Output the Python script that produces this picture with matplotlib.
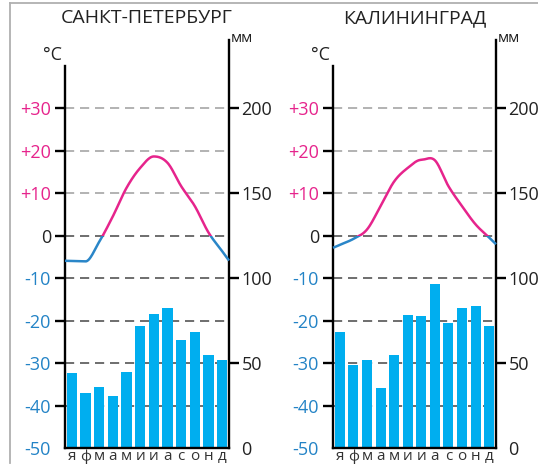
import numpy as np
import matplotlib
matplotlib.use("Agg")
import matplotlib.pyplot as plt
from matplotlib.patches import Rectangle
from matplotlib.lines import Line2D
from matplotlib.transforms import blended_transform_factory

plt.rcParams['font.family'] = ['Open Sans', 'DejaVu Sans']

months = ['я', 'ф', 'м', 'а', 'м', 'и', 'и', 'а', 'с', 'о', 'н', 'д']
titles = ['САНКТ-ПЕТЕРБУРГ', 'КАЛИНИНГРАД']
spb_temp = [-6.0, -6.1, -1.5, 4.5, 11.2, 15.9, 18.6, 17.1, 11.6, 6.9, 0.7, -3.7]
spb_prec = [44, 32.5, 36, 30.5, 44.5, 71.5, 79, 82.5, 63.5, 68, 55, 52]
kal_temp = [-2.2, -0.8, 1.4, 6.9, 12.7, 15.9, 17.8, 17.7, 11.6, 6.9, 2.6, -0.5]
kal_prec = [68, 49, 52, 35.5, 55, 78.5, 77.5, 96.5, 73.5, 82.5, 83.5, 72]
temp_ticks = [30, 20, 10, 0, -10, -20, -30, -40, -50]
temp_labels = ['+30', '+20', '+10', '0', '-10', '-20', '-30', '-40', '-50']
mm_ticks = [0, 50, 100, 150, 200]

PINK = '#E6248C'
BLUE_LINE = '#2A86C8'
BLUE_TXT = '#2383C6'
BAR = '#00AEEF'
TXT = '#222222'

W, H = 538, 465
fig = plt.figure(figsize=(W / 100, H / 100), dpi=100)

T_MIN, T_MAX = -50, 46
MM_MAX = (T_MAX - T_MIN) * 2.5


def smooth_curve(x, y, n=24):
    """Hermite rendering of the monthly points (Catmull-Rom tangents, zero at
    local extrema), extended to the half-month edges."""
    x = np.asarray(x, float)
    y = np.asarray(y, float)
    h = np.diff(x)
    d = np.diff(y) / h
    m = np.zeros_like(y)
    for i in range(1, len(y) - 1):
        if d[i - 1] * d[i] <= 0:
            m[i] = 0.0
        else:
            m[i] = 0.5 * (d[i - 1] + d[i])
    m[0] = d[0]
    m[-1] = d[-1]
    xs, ys = [], []
    for i in range(len(x) - 1):
        t = np.linspace(0, 1, n, endpoint=False)
        h00 = 2 * t ** 3 - 3 * t ** 2 + 1
        h10 = t ** 3 - 2 * t ** 2 + t
        h01 = -2 * t ** 3 + 3 * t ** 2
        h11 = t ** 3 - t ** 2
        xs.append(x[i] + t * h[i])
        ys.append(h00 * y[i] + h10 * h[i] * m[i] + h01 * y[i + 1] + h11 * h[i] * m[i + 1])
    xs.append([x[-1]])
    ys.append([y[-1]])
    xl = np.array([x[0] - 0.5])
    yl = np.array([y[0] - 0.5 * m[0]])
    xr = np.array([x[-1] + 0.5])
    yr = np.array([y[-1] + 0.5 * m[-1]])
    return np.concatenate([xl] + xs + [xr]), np.concatenate([yl] + ys + [yr])


def panel(left_px, width_px, title, temps, prec):
    bottom_px, top_px = 448, 40
    rect = [left_px / W, 1 - bottom_px / H, width_px / W, (bottom_px - top_px) / H]
    ax_mm = fig.add_axes(rect)
    ax_t = ax_mm.twinx()
    x = np.arange(12)
    ax_mm.set_xlim(-0.5, 11.5)
    ax_mm.set_ylim(0, MM_MAX)
    ax_t.set_ylim(T_MIN, T_MAX)

    # dashed grid (behind bars)
    tr = blended_transform_factory(ax_mm.transAxes, ax_t.transData)
    for v in temp_ticks[:-1]:
        col = '#A6A6A6' if v > 0 else '#555555'
        ax_mm.add_line(Line2D([0, 1], [v, v], transform=tr, color=col, lw=1.2,
                              linestyle=(0, (5.5, 3.5)), zorder=1))

    ax_mm.bar(x, prec, width=0.74, color=BAR, zorder=2)

    # temperature curve, pink above 0 and blue below
    xs, ys = smooth_curve(x, temps)
    for col, r in [(PINK, Rectangle((-1, 0), 14, 100, transform=ax_t.transData)),
                   (BLUE_LINE, Rectangle((-1, -100), 14, 100, transform=ax_t.transData))]:
        ln, = ax_t.plot(xs, ys, color=col, lw=1.8, solid_capstyle='butt', zorder=3)
        ln.set_clip_path(r)

    for a in (ax_mm, ax_t):
        a.patch.set_visible(False)
        for s in a.spines.values():
            s.set_visible(False)

    ax_t.spines['left'].set_visible(True)
    ax_t.spines['left'].set_linewidth(1.7)
    ax_t.spines['left'].set_bounds(T_MIN, 40)
    ax_mm.spines['right'].set_visible(True)
    ax_mm.spines['right'].set_linewidth(1.7)
    ax_mm.spines['bottom'].set_visible(True)
    ax_mm.spines['bottom'].set_linewidth(1.7)

    ax_t.yaxis.tick_left()
    ax_t.set_yticks(temp_ticks)
    ax_t.set_yticklabels(temp_labels)
    ax_t.tick_params(axis='y', length=7, width=1.7, pad=3, labelsize=13)
    for lab, v in zip(ax_t.get_yticklabels(), temp_ticks):
        lab.set_color(PINK if v > 0 else (TXT if v == 0 else BLUE_TXT))
    for tk, v in zip(ax_t.yaxis.get_major_ticks(), temp_ticks):
        if v == -50:
            tk.tick1line.set_visible(False)

    ax_mm.yaxis.tick_right()
    ax_mm.set_yticks(mm_ticks)
    ax_mm.tick_params(axis='y', length=7, width=1.7, pad=2, labelsize=13, labelcolor=TXT)
    for tk, v in zip(ax_mm.yaxis.get_major_ticks(), mm_ticks):
        if v == 0:
            tk.tick2line.set_visible(False)

    ax_mm.set_xticks(x)
    ax_mm.set_xticklabels(months)
    ax_mm.tick_params(axis='x', length=0, pad=1, labelsize=11, labelcolor='#333333')

    fig.text((left_px + width_px / 2) / W, 1 - 18 / H, title, ha='center', va='center',
             fontsize=14, color=TXT)
    fig.text((left_px - 12) / W, 1 - 55 / H, '°C', ha='center', va='center', fontsize=13,
             color=TXT)
    fig.text((left_px + width_px + 2) / W, 1 - 38 / H, 'мм', ha='left', va='center',
             fontsize=11, color=TXT)
    return ax_mm


panel(65, 164, titles[0], spb_temp, spb_prec)
panel(333, 163, titles[1], kal_temp, kal_prec)

# light frame lines of the original figure box
fig.add_artist(Line2D([10 / W, 1], [1 - 3 / H, 1 - 3 / H], transform=fig.transFigure,
                      color='#B0B0B0', lw=1.3))
fig.add_artist(Line2D([10 / W, 10 / W], [1 - 3 / H, 1 - 463 / H], transform=fig.transFigure,
                      color='#B0B0B0', lw=1.3))

fig.savefig('out.png', dpi=100)
